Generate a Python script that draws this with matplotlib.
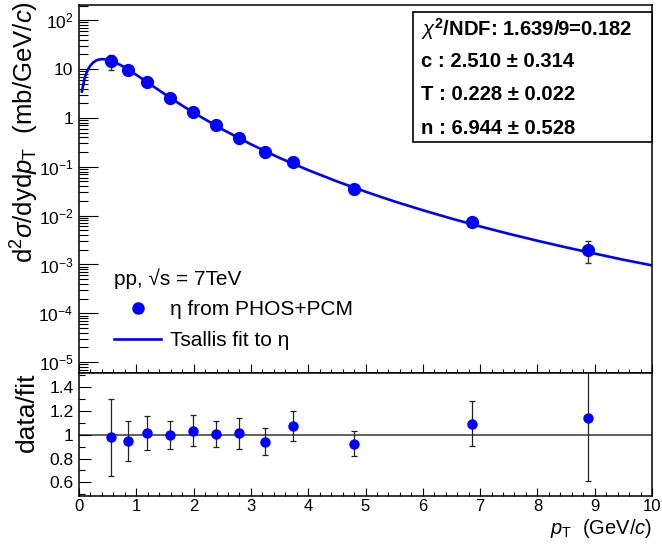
import matplotlib
matplotlib.use("Agg")
import matplotlib.pyplot as plt
from matplotlib.lines import Line2D
from matplotlib.patches import Rectangle
from matplotlib.ticker import LogLocator, MultipleLocator, NullFormatter, FixedLocator, FixedFormatter

# eta cross section, pp 7 TeV
pt = [0.55, 0.85, 1.19, 1.59, 1.99, 2.39, 2.79, 3.24, 3.74, 4.80, 6.85, 8.88]
xsec = [14.6, 9.4, 5.4, 2.6, 1.32, 0.70, 0.385, 0.196, 0.124, 0.035, 0.0073, 0.00202]
xsec_err = [4.9, 1.68, 0.745, 0.304, 0.166, 0.079, 0.049, 0.024, 0.0146, 0.004, 0.00127, 0.00094]

# data / fit
ratio = [0.98, 0.95, 1.015, 1.0, 1.035, 1.007, 1.012, 0.943, 1.075, 0.925, 1.095, 1.14]
ratio_err = [0.325, 0.17, 0.14, 0.117, 0.13, 0.113, 0.13, 0.115, 0.127, 0.105, 0.19, 0.53]

# Tsallis fit curve
fit_pt = [0.05, 0.1, 0.15, 0.2, 0.25, 0.3, 0.35, 0.4, 0.5, 0.6, 0.7, 0.8, 0.9, 1.0,
          1.25, 1.5, 1.75, 2.0, 2.5, 3.0, 3.5, 4.0, 4.5, 5.0, 5.5, 6.0, 6.5, 7.0,
          7.5, 8.0, 8.5, 9.0, 9.5, 10.0]
fit_val = [3.47, 6.67, 9.53, 11.9, 13.7, 15.0, 15.7, 16.0, 15.6, 14.2, 12.5, 10.8, 9.11, 7.63,
           4.82, 3.05, 1.96, 1.28, 0.585, 0.289, 0.152, 0.0855, 0.0503, 0.0309, 0.0196, 0.0129,
           8.70e-3, 6.01e-3, 4.25e-3, 3.06e-3, 2.24e-3, 1.67e-3, 1.25e-3, 9.6e-4]

stats = [r'$\chi^{\mathbf{2}}$/NDF: 1.639/9=0.182', "c : 2.510 ± 0.314",
         "T : 0.228 ± 0.022", "n : 6.944 ± 0.528"]

plt.rcParams['font.family'] = ['Liberation Sans', 'DejaVu Sans']
plt.rcParams['mathtext.fontset'] = 'custom'
plt.rcParams['mathtext.rm'] = 'Liberation Sans'
plt.rcParams['mathtext.it'] = 'Liberation Sans:italic'
plt.rcParams['mathtext.bf'] = 'Liberation Sans:bold'

W, H = 662, 547
fig = plt.figure(figsize=(W / 100, H / 100), dpi=100)


def fx(px):
    return px / W


def fy(py):
    return 1 - py / H


L, R = 79, 652
ax = fig.add_axes([fx(L), fy(373), fx(R - L), (373 - 5) / H])
axr = fig.add_axes([fx(L), fy(496), fx(R - L), (496 - 373) / H])

tickfont = ['Liberation Sans Narrow', 'Liberation Sans']

# top panel
ax.plot(fit_pt, fit_val, color='#0000ff', lw=1.9, zorder=2)
ax.errorbar(pt, xsec, yerr=xsec_err, fmt='o', color='#0000ff', ms=8.5,
            ecolor='#333333', elinewidth=1, capsize=2, capthick=1, zorder=3)
ax.set_yscale('log')
ax.set_xlim(0, 10)
ax.set_ylim(6e-6, 205)
ax.yaxis.set_minor_locator(LogLocator(base=10, subs=range(2, 10), numticks=20))
ax.yaxis.set_minor_formatter(NullFormatter())
ylabs = [r'$10^{-5}$', r'$10^{-4}$', r'$10^{-3}$', r'$10^{-2}$', r'$10^{-1}$', '1', '10', r'$10^{2}$']
ax.yaxis.set_major_locator(FixedLocator([1e-5, 1e-4, 1e-3, 1e-2, 1e-1, 1, 10, 100]))
ax.yaxis.set_major_formatter(FixedFormatter(ylabs))
ax.xaxis.set_major_locator(MultipleLocator(1))
ax.xaxis.set_minor_locator(MultipleLocator(0.2))
ax.tick_params(axis='x', which='both', direction='in', labelbottom=False, top=False)
ax.tick_params(axis='x', which='major', length=6.5, width=0.8)
ax.tick_params(axis='x', which='minor', length=3.2, width=0.8)
ax.tick_params(axis='y', which='both', direction='in', right=False)
ax.tick_params(axis='y', which='major', length=13.5, width=0.8, pad=4, labelsize=12.5)
ax.tick_params(axis='y', which='minor', length=6.5, width=0.8)
for lab in ax.get_yticklabels():
    lab.set_family(tickfont)
ax.set_ylabel(r'd$^{2}\sigma$/dyd$p_{\rm T}$  (mb/GeV/$c$)', fontsize=18.5, loc='top')
ax.yaxis.set_label_coords(-0.066, 1.01)

legend_handles = [
    Line2D([], [], ls='none', marker='o', color='#0000ff', ms=8),
    Line2D([], [], color='#0000ff', lw=1.9),
]
leg = ax.legend(legend_handles, ['η from PHOS+PCM', 'Tsallis fit to η'],
                title='pp, √s = 7TeV', title_fontsize=15, fontsize=15,
                frameon=False, loc='upper left',
                bbox_to_anchor=((104 - L) / (R - L), (373 - 258) / 368),
                handlelength=2.25, handletextpad=0.4, labelspacing=0.55,
                alignment='left', borderpad=0)

# stats box
fig.patches.append(Rectangle((fx(413), fy(142)), fx(R - 413), (142 - 12) / H,
                             transform=fig.transFigure, fill=True, facecolor='white',
                             edgecolor='black', lw=1.2, zorder=5))
for i, s in enumerate(stats):
    fig.text(fx(421), fy(29 + 33 * i), s, fontsize=14.6, fontweight='bold',
             va='center', ha='left', zorder=6)

# ratio panel
axr.axhline(1, color='#555555', lw=1.3, zorder=1)
axr.errorbar(pt, ratio, yerr=ratio_err, fmt='o', color='#0000ff', ms=6.5,
             ecolor='#222222', elinewidth=0.9, capsize=2, capthick=0.9, zorder=3)
axr.set_xlim(0, 10)
axr.set_ylim(0.485, 1.52)
axr.yaxis.set_major_locator(FixedLocator([0.6, 0.8, 1.0, 1.2, 1.4]))
axr.yaxis.set_major_formatter(FixedFormatter(['0.6', '0.8', '1', '1.2', '1.4']))
axr.yaxis.set_minor_locator(MultipleLocator(0.1))
axr.xaxis.set_major_locator(MultipleLocator(1))
axr.xaxis.set_minor_locator(MultipleLocator(0.2))
axr.tick_params(axis='both', which='both', direction='in', top=False, right=False)
axr.tick_params(axis='y', which='major', length=8.5, width=0.8, pad=4, labelsize=12.5)
axr.tick_params(axis='y', which='minor', length=4.5, width=0.8)
axr.tick_params(axis='x', which='major', length=6, width=0.8, pad=2, labelsize=12)
axr.tick_params(axis='x', which='minor', length=3, width=0.8)
for lab in axr.get_yticklabels() + axr.get_xticklabels():
    lab.set_family(tickfont)
axr.set_ylabel('data/fit', fontsize=19, loc='top')
axr.yaxis.set_label_coords(-0.07, 1.0)
axr.set_xlabel(r'$p_{\rm T}$  (GeV/$c$)', fontsize=14.5, loc='right', labelpad=2)

for a in (ax, axr):
    for sp in a.spines.values():
        sp.set_linewidth(1.1)

fig.savefig('out.png', dpi=100)
